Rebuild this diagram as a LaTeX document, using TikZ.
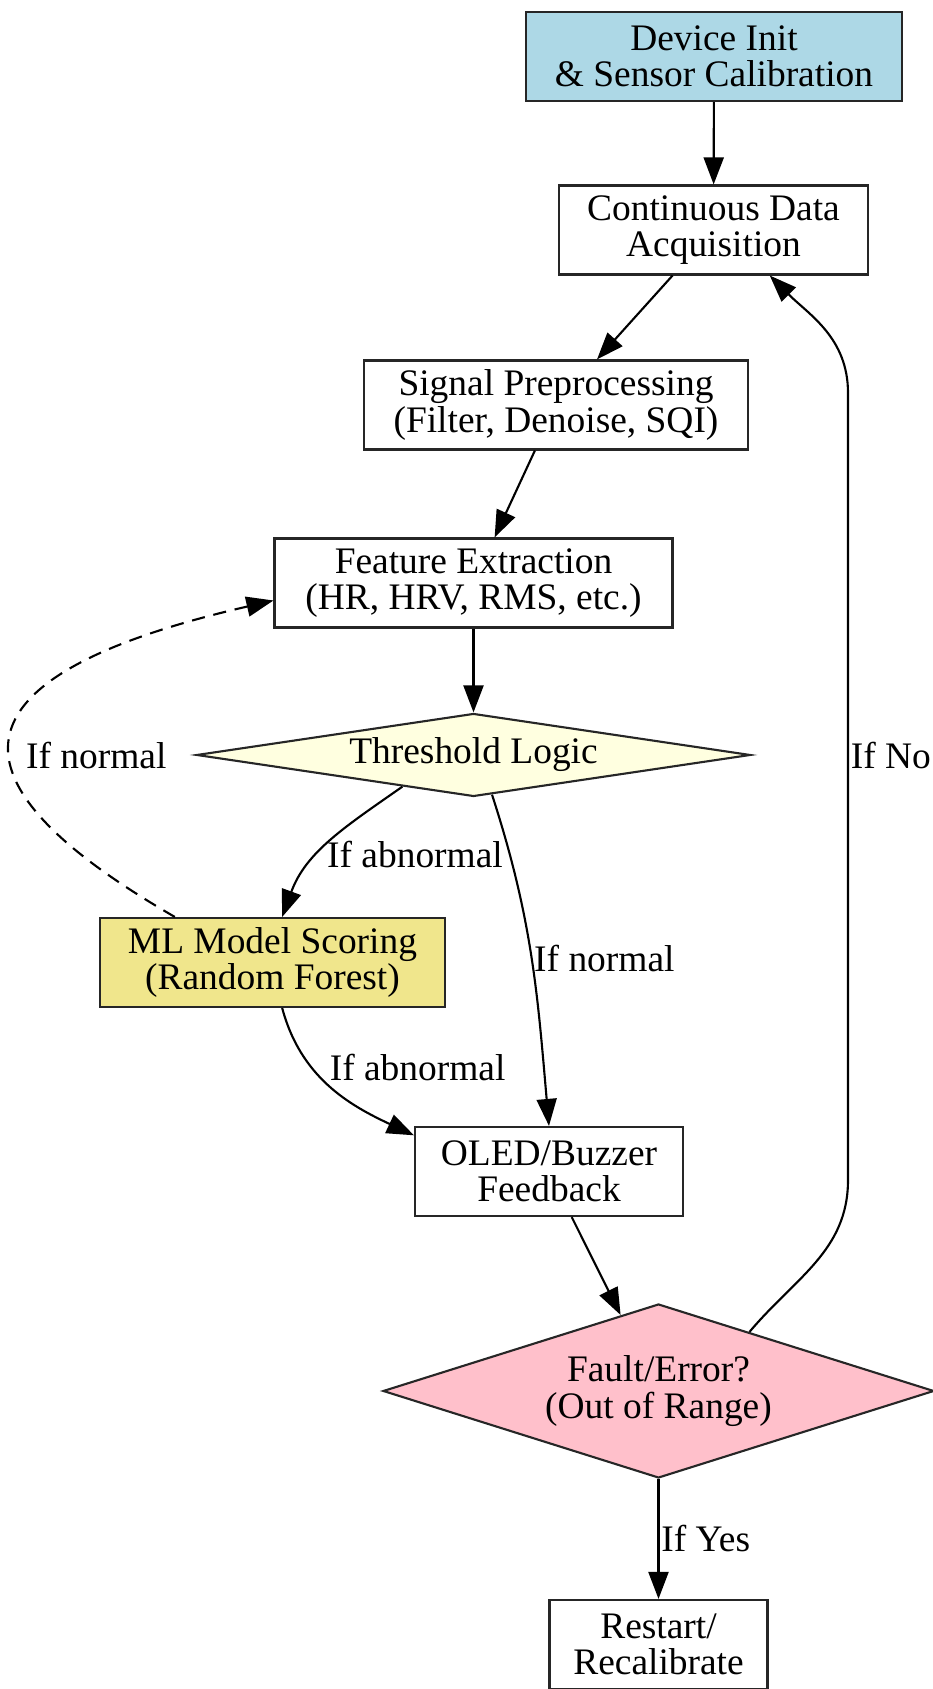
\documentclass[tikz,border=0pt]{standalone}
\usepackage{fontspec}
\setmainfont{Liberation Serif}
\usetikzlibrary{
  arrows.meta,
  shapes.geometric
}
\definecolor{initblue}{HTML}{ADD8E6}
\definecolor{thryellow}{HTML}{FFFFE0}
\definecolor{mlkhaki}{HTML}{F0E68C}
\definecolor{faultpink}{HTML}{FFC0CB}
\tikzset{
  process box/.style={
    rectangle,
    draw=black!85,
    line width=1.2pt,
    align=center,
    inner xsep=0.3cm,
    inner ysep=1pt,
    minimum height=1.78cm,
    font=\fontsize{21.3pt}{20.8pt}\selectfont
  },
  decision box/.style={
    diamond,
    draw=black!85,
    line width=1.2pt,
    align=center,
    inner sep=0pt,
    font=\fontsize{21.3pt}{20.8pt}\selectfont
  },
  flow arrow/.style={
    line width=1.2pt,
    -{Triangle[length=0.54cm,width=0.4cm]}
  },
  feedback arrow/.style={
    flow arrow,
    dash pattern=on 7.5pt off 5pt
  },
  branch label/.style={
    inner sep=1pt,
    anchor=west,
    font=\fontsize{21.3pt}{20.8pt}\selectfont
  }
}

\begin{document}
\begin{tikzpicture}

    \useasboundingbox (0,0) rectangle (18.66,33.78);

    % ---------- steps ----------
    \node[process box, fill=initblue, minimum width=7.52cm]
      (init) at (14.28,32.65) {Device Init\\\& Sensor Calibration};
    \node[process box, minimum width=6.18cm]
      (acq) at (14.27,29.18) {Continuous Data\\Acquisition};
    \node[process box, minimum width=7.68cm]
      (pre) at (11.12,25.68) {Signal Preprocessing\\(Filter, Denoise, SQI)};
    \node[process box, minimum width=7.96cm]
      (feat) at (9.47,22.12) {Feature Extraction\\(HR, HRV, RMS, etc.)};
    \node[decision box, fill=thryellow, aspect=6.67,
          minimum width=11.08cm, minimum height=1.66cm]
      (thr) at (9.47,18.68) {Threshold Logic};
    \node[process box, fill=mlkhaki, minimum width=6.90cm]
      (ml) at (5.45,14.53) {ML Model Scoring\\(Random Forest)};
    \node[process box, minimum width=5.36cm]
      (oled) at (10.98,10.35) {OLED/Buzzer\\Feedback};
    \node[decision box, fill=faultpink, aspect=3.17,
          minimum width=11.02cm, minimum height=3.48cm]
      (fault) at (13.17,5.96) {Fault/Error?\\(Out of Range)};
    \node[process box, minimum width=4.36cm]
      (restart) at (13.17,0.89) {Restart/\\Recalibrate};

    % bends of the return path
    \coordinate (retA) at (16.96,10.18);
    \coordinate (retB) at (16.96,25.92);

    % ---------- main flow ----------
    \draw[flow arrow] (init) -- (acq);
    \draw[flow arrow] (acq) -- (pre);
    \draw[flow arrow] (pre) -- (feat);
    \draw[flow arrow] (feat) -- (thr);

    % threshold branches
    \draw[flow arrow]
      (thr.204) to[out=215,in=70]
      node[branch label, pos=0.6, xshift=0.12cm] {If abnormal}
      (ml.78);
    \draw[flow arrow]
      (thr.-65) to[out=-72,in=95]
      node[branch label, pos=0.5] {If normal}
      (oled.north);

    % model branches
    \draw[flow arrow]
      (ml.-78) to[out=-75,in=155]
      node[branch label, pos=0.35, xshift=0.3cm] {If abnormal}
      (oled.165);
    \draw[feedback arrow]
      (ml.155)
      .. controls +(150:5.0) and +(193:7.2) ..
      node[branch label, pos=0.46, xshift=0.25cm] {If normal}
      (feat.185);

    % ---------- fault check ----------
    \draw[flow arrow] (oled) -- (fault);
    \draw[flow arrow]
      (fault.33) to[out=50,in=-90] (retA)
      -- node[branch label, pos=0.54] {If No} (retB)
      to[out=90,in=-45] (acq.-39);
    \draw[flow arrow]
      (fault) -- node[branch label, midway] {If Yes} (restart);

\end{tikzpicture}
\end{document}
